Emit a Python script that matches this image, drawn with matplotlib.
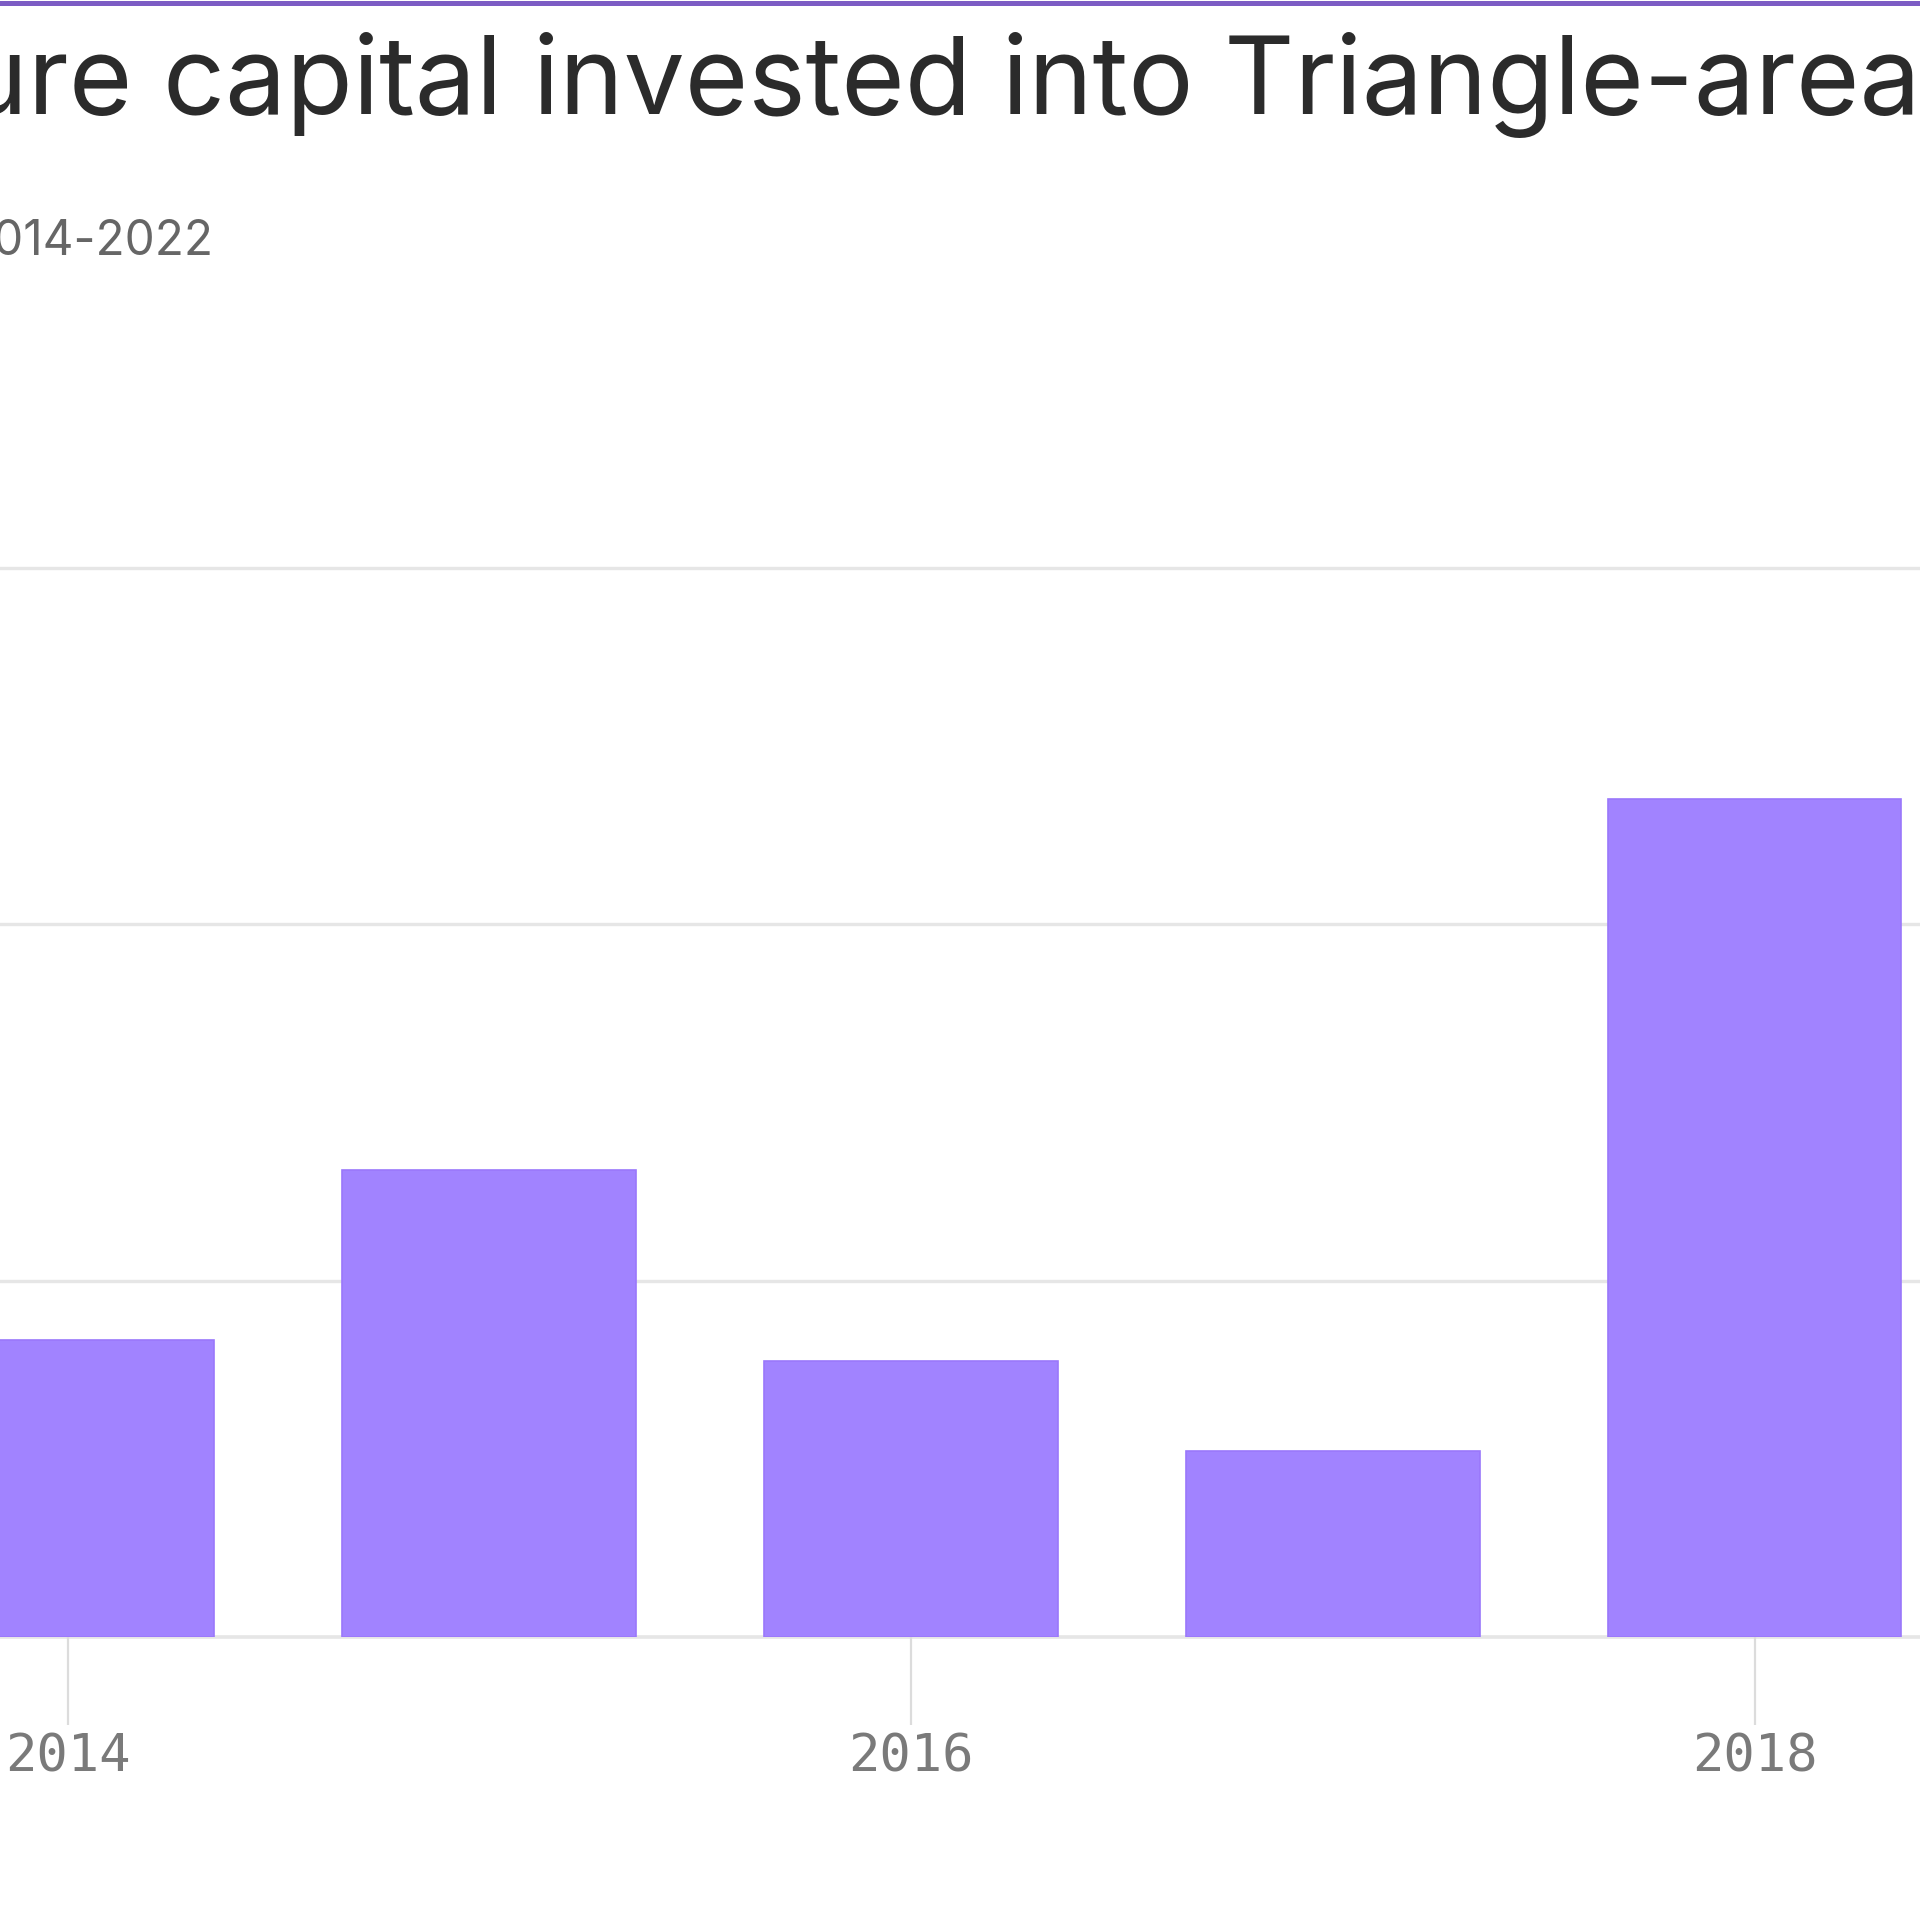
import matplotlib
matplotlib.use("Agg")
import matplotlib.pyplot as plt
from matplotlib.font_manager import FontProperties
from matplotlib.lines import Line2D

# ---- data (visible part of the chart) ----
years = [2014, 2015, 2016, 2017, 2018]
invested = [417, 656, 388, 261, 1176]          # estimated, $M
grid_values = [500, 1000, 1500]
tick_years = [2014, 2016, 2018]
tick_labels = ["2014", "2016", "2018"]

title = "Venture capital invested into Triangle-area startups"
subtitle = "2014-2022"

BAR = "#a183ff"
BAR_EDGE = "#9a78fb"
GRID = "#e6e6e6"
TICK = "#dcdcdc"
TICKLAB = "#7a7a7a"
TITLE_C = "#2b2b2b"
SUB_C = "#666666"
TOP_LINE = "#7c5cc4"

W = H = 1920
DPI = 100
fig = plt.figure(figsize=(W / DPI, H / DPI), dpi=DPI)
fig.patch.set_facecolor("white")

# pixel geometry (from top of image)
px_base = 1637
px_per_unit = 356.3 / 500.0
ymax = 1600
ax_h_px = ymax * px_per_unit
x2014 = 67.5
px_per_year = 421.75
x_left = 2014 - x2014 / px_per_year
x_right = 2014 + (W - x2014) / px_per_year

ax = fig.add_axes([0, (H - px_base) / H, 1, ax_h_px / H])
ax.set_xlim(x_left, x_right)
ax.set_ylim(0, ymax)
for s in ax.spines.values():
    s.set_visible(False)
ax.set_facecolor("none")

# gridlines + baseline
for g in grid_values:
    ax.axhline(g, color=GRID, lw=2.4, zorder=1)
ax.axhline(0, color=GRID, lw=2.6, zorder=1, clip_on=False)

ax.bar(years, invested, width=0.697, color=BAR, edgecolor=BAR_EDGE,
       linewidth=1.2, zorder=2)

ax.set_yticks([])
ax.set_xticks(tick_years)
ax.set_xticklabels(tick_labels, fontfamily="DejaVu Sans Mono", fontsize=37.5,
                   color=TICKLAB)
ax.tick_params(axis="x", length=63, width=1.6, color=TICK, pad=6)

# top purple rule
fig.add_artist(Line2D([0, 1], [1 - 2.5 / H, 1 - 2.5 / H], color=TOP_LINE,
                      lw=3.6, transform=fig.transFigure))

# ---- title / subtitle positioned so the crop matches ----
renderer = fig.canvas.get_renderer()


def w(s, fp):
    ww, hh, dd = renderer.get_text_width_height_descent(s, fp, ismath=False)
    return ww


fp0 = FontProperties(family="Inter", size=78)
d0 = (w("Venture capital invested into T", fp0) - w("T", fp0)) - \
     (w("Venture c", fp0) - w("c", fp0))
F = 78 * (1224 - 163) / d0
fp = FontProperties(family="Inter", size=F)
off = w("Venture c", fp) - w("c", fp)
x0 = 163 - off
fig.text(x0 / W, 1 - 114 / H, title, fontproperties=fp, color=TITLE_C,
         va="baseline", ha="left")

sp0 = FontProperties(family="Inter", size=38)
SF = 38 * 220 / w("014-2022", sp0)
sp = FontProperties(family="Inter", size=SF)
sub_w = w(subtitle, sp)
fig.text((213 - sub_w) / W, 1 - 255 / H, subtitle, fontproperties=sp,
         color=SUB_C, va="baseline", ha="left")

fig.savefig("out.png", dpi=DPI, facecolor="white")
